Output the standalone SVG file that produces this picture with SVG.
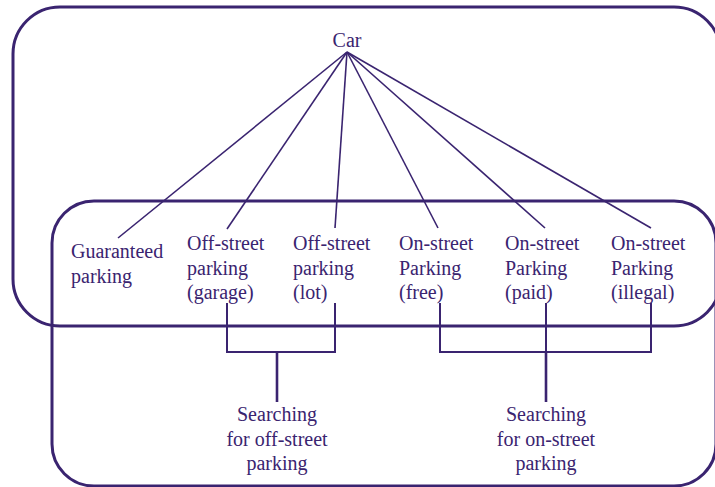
<svg xmlns="http://www.w3.org/2000/svg" width="715" height="487" viewBox="0 0 715 487">
<style>
.box{fill:none;stroke:#3a2470;stroke-width:3}
.ln{fill:none;stroke:#3a2470;stroke-width:1.6}
.br{fill:none;stroke:#3a2470;stroke-width:2}
.stem{fill:none;stroke:#3a2470;stroke-width:2.6}
text{font-family:"Liberation Serif","Times New Roman",serif;font-size:20px;fill:#3a2470}
.c{text-anchor:middle}
</style>
<rect width="715" height="487" fill="#ffffff"/>
<g id="group-car-context"><rect class="box" x="13" y="7" width="708" height="319" rx="47" ry="47"/></g>
<g id="group-parking-context"><rect class="box" x="52" y="201" width="664" height="285" rx="42" ry="42"/></g>
<g id="connectors">
<line class="ln" x1="347" y1="52" x2="118" y2="238"/>
<line class="ln" x1="347" y1="52" x2="227" y2="229"/>
<line class="ln" x1="347" y1="52" x2="335" y2="228"/>
<line class="ln" x1="347" y1="52" x2="438" y2="228"/>
<line class="ln" x1="347" y1="52" x2="545" y2="228"/>
<line class="ln" x1="347" y1="52" x2="651" y2="228"/>
<polyline class="br" points="227,303 227,352 335,352 335,303"/>
<line class="stem" x1="277" y1="352" x2="277" y2="402"/>
<polyline class="br" points="440,303 440,352 651,352 651,303"/>
<line class="br" x1="546" y1="303" x2="546" y2="352"/>
<line class="stem" x1="546" y1="352" x2="546" y2="402"/>
</g>
<g id="car"><text class="c" x="347" y="47">Car</text></g>
<g id="guaranteed"><text x="71" y="258">Guaranteed</text><text x="71" y="283">parking</text></g>
<g id="offstreet-garage"><text x="187" y="250">Off-street</text><text x="187" y="275">parking</text><text x="187" y="299">(garage)</text></g>
<g id="offstreet-lot"><text x="293" y="250">Off-street</text><text x="293" y="275">parking</text><text x="293" y="299">(lot)</text></g>
<g id="onstreet-free"><text x="399" y="250">On-street</text><text x="399" y="275">Parking</text><text x="399" y="299">(free)</text></g>
<g id="onstreet-paid"><text x="505" y="250">On-street</text><text x="505" y="275">Parking</text><text x="505" y="299">(paid)</text></g>
<g id="onstreet-illegal"><text x="611" y="250">On-street</text><text x="611" y="275">Parking</text><text x="611" y="299">(illegal)</text></g>
<g id="search-offstreet"><text class="c" x="277" y="421">Searching</text><text class="c" x="277" y="446">for off-street</text><text class="c" x="277" y="470">parking</text></g>
<g id="search-onstreet"><text class="c" x="546" y="421">Searching</text><text class="c" x="546" y="446">for on-street</text><text class="c" x="546" y="470">parking</text></g>
</svg>
